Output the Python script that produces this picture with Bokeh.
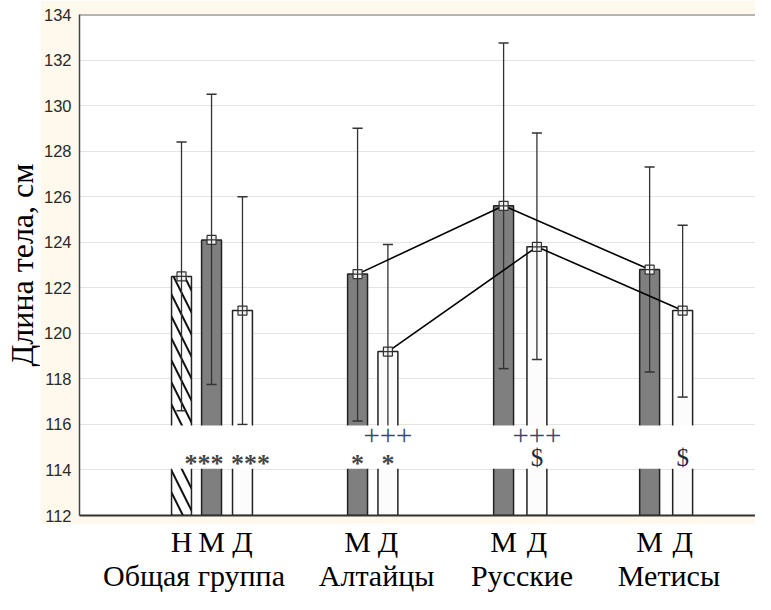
import math
from bokeh.plotting import figure
from bokeh.models import Range1d, FixedTicker, ColumnDataSource, Span
from bokeh.layouts import row, column
from bokeh.core.properties import value
from bokeh.embed import file_html
from bokeh.resources import INLINE

# ---- data ----
y_ticks = list(range(112, 135, 2))
bar_letters = ["Н", "М", "Д", "М", "Д", "М", "Д", "М", "Д"]
bar_kind = ["Н", "М", "Д", "М", "Д", "М", "Д", "М", "Д"]
means = [122.5, 124.1, 121.0, 122.6, 119.2, 125.6, 123.8, 122.8, 121.0]
upper = [128.4, 130.5, 126.0, 129.0, 123.9, 132.75, 128.8, 127.3, 124.75]
lower = [116.6, 117.75, 116.0, 116.15, 114.5, 118.45, 118.85, 118.3, 117.2]
groups = ["Общая группа", "Алтайцы", "Русские", "Метисы"]
y_title = "Длина тела, см"
boys_line_idx = [3, 5, 7]
girls_line_idx = [4, 6, 8]
star_text = ["***", "***", "*", "*"]
plus_text = ["+++", "+++"]
dollar_text = ["$", "$"]

# ---- layout (slot positions) ----
bar_x = [3.43, 4.44, 5.48, 9.35, 10.37, 14.26, 15.38, 19.17, 20.28]
group_label_x = [3.85, 9.99, 14.88, 19.82]
star_x = [4.19, 5.75, 9.35, 10.37]
plus_x = [10.37, 15.38]
dollar_x = [15.38, 20.28]
star_y, plus_y, dollar_y = 114.3, 115.52, 114.55
band_low, band_high = 114.05, 115.95
bar_w = 0.67
cap_w = 0.34
x_end = 22.73

fill_map = {"Н": "white", "М": "#7f7f7f", "Д": "#fcfcfc"}
cream = "#FEF9EC"
serif = value("Liberation Serif")

TITLE_W = 40
MAIN_H = 524
BOTTOM_H = 70

xr = Range1d(0, x_end)

# ---- main plot (cream border) ----
p = figure(width=755 - TITLE_W, height=MAIN_H, output_backend="svg", toolbar_location=None,
           x_range=xr, y_range=Range1d(112, 134),
           min_border_left=39, min_border_top=14, min_border_right=0, min_border_bottom=9,
           background_fill_color="white", border_fill_color=cream)
p.outline_line_color = None

p.ygrid.ticker = FixedTicker(ticks=y_ticks)
p.ygrid.grid_line_color = "#e4e4e4"
p.xgrid.visible = False

src = ColumnDataSource(dict(x=bar_x, top=means, up=upper, lo=lower,
                            fill=[fill_map[k] for k in bar_kind],
                            hatch=["\\" if k == "Н" else " " for k in bar_kind]))
p.vbar(x="x", top="top", bottom=112, width=bar_w, source=src, fill_color="fill",
       line_color="#222222", line_width=1.5, hatch_pattern="hatch", hatch_color="#111111",
       hatch_weight=2, hatch_scale=22)

p.segment(x0="x", x1="x", y0="lo", y1="up", source=src, line_color="#333333", line_width=1.3)
cap_src = ColumnDataSource(dict(
    x0=[x - cap_w / 2 for x in bar_x] * 2, x1=[x + cap_w / 2 for x in bar_x] * 2,
    y=upper + lower))
p.segment(x0="x0", x1="x1", y0="y", y1="y", source=cap_src, line_color="#333333", line_width=1.5)

# white band for the significance marks
p.quad(left=0, right=x_end, bottom=band_low, top=band_high, fill_color="white", line_color=None)

p.line([bar_x[i] for i in boys_line_idx], [means[i] for i in boys_line_idx], line_color="black", line_width=1.6)
p.line([bar_x[i] for i in girls_line_idx], [means[i] for i in girls_line_idx], line_color="black", line_width=1.6)

p.scatter(x="x", y="top", source=src, marker="square_cross", size=9, fill_color="#f2f2f2",
          line_color="#333333", line_width=1.2)

p.text(x=star_x, y=[star_y] * len(star_x), text=star_text, text_font=serif,
       text_font_size="26px", text_font_style="bold",
       text_align="center", text_baseline="middle", text_color="#454545")
p.text(x=plus_x, y=[plus_y] * len(plus_x), text=plus_text, text_font=serif, text_font_size="29px",
       text_align="center", text_baseline="middle", text_color="#3b4866")
p.text(x=dollar_x, y=[dollar_y] * len(dollar_x), text=dollar_text, text_font=serif, text_font_size="25px",
       text_align="center", text_baseline="middle", text_color="#1c2b45")

p.add_layout(Span(location=134, dimension="width", line_color="#6a6a6a", line_width=2))

p.yaxis.ticker = FixedTicker(ticks=y_ticks)
p.yaxis.major_tick_out = 0
p.yaxis.major_tick_in = 0
p.yaxis.minor_tick_out = 0
p.yaxis.minor_tick_in = 0
p.yaxis.axis_line_color = "#444444"
p.yaxis.axis_line_width = 1.5
p.yaxis.major_label_text_font = "Liberation Sans"
p.yaxis.major_label_text_font_size = "16.5px"
p.yaxis.major_label_text_color = "#2a2a2a"
p.yaxis.major_label_standoff = 8
p.yaxis.axis_label_standoff = 0

p.xaxis.ticker = FixedTicker(ticks=[])
p.xaxis.major_tick_out = 0
p.xaxis.major_tick_in = 0
p.xaxis.minor_tick_out = 0
p.xaxis.minor_tick_in = 0
p.xaxis.axis_line_color = "#333333"
p.xaxis.axis_line_width = 2
p.xaxis.major_label_text_font_size = "0px"
p.xaxis.major_label_standoff = 0
p.xaxis.axis_label_standoff = 0

# ---- category labels below (white) ----
b = figure(width=755 - TITLE_W, height=BOTTOM_H, output_backend="svg", toolbar_location=None,
           x_range=xr, y_range=Range1d(0, BOTTOM_H), x_axis_location=None, y_axis_location=None,
           min_border_left=39, min_border_top=0, min_border_right=0, min_border_bottom=0,
           background_fill_color="white", border_fill_color="white")
b.outline_line_color = None
b.grid.visible = False
letters_y, names_y = 53, 19
b.text(x=bar_x, y=[letters_y] * len(bar_x), text=bar_letters, text_font=serif, text_font_size="30px",
       text_align="center", text_baseline="alphabetic", text_color="black")
b.text(x=group_label_x, y=[names_y] * len(group_label_x), text=groups, text_font=serif,
       text_font_size="30px", text_align="center", text_baseline="alphabetic", text_color="black")

# ---- y title (white) ----
t = figure(width=TITLE_W, height=MAIN_H, output_backend="svg", toolbar_location=None,
           x_range=Range1d(0, TITLE_W), y_range=Range1d(0, MAIN_H), x_axis_location=None,
           y_axis_location=None,
           min_border_left=0, min_border_top=0, min_border_right=0, min_border_bottom=0,
           background_fill_color="white", border_fill_color="white")
t.outline_line_color = None
t.grid.visible = False
t.text(x=[21], y=[259.5], text=[y_title], angle=math.pi / 2, text_font=serif, text_font_size="32px",
       text_align="center", text_baseline="middle", text_color="black")

layout = row(t, column(p, b, spacing=0), spacing=0)
open("out.html", "w").write(file_html(layout, INLINE))
